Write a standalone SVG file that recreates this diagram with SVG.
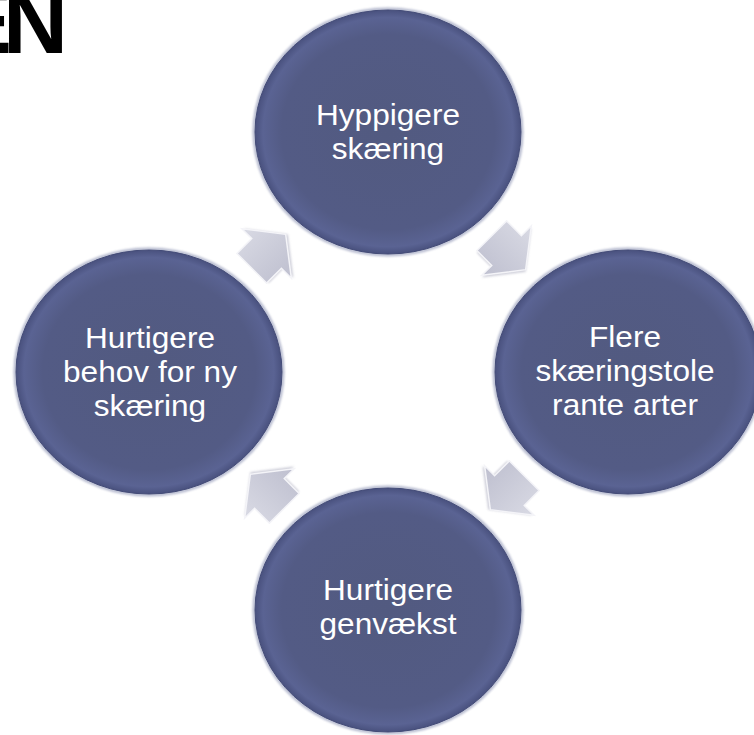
<svg xmlns="http://www.w3.org/2000/svg" width="754" height="735" viewBox="0 0 754 735">
  <defs>
    <radialGradient id="discFill" cx="50%" cy="50%" r="50%">
      <stop offset="0%" stop-color="#525a80"/>
      <stop offset="80%" stop-color="#535b85"/>
      <stop offset="94%" stop-color="#5a6393"/>
      <stop offset="100%" stop-color="#49517e"/>
    </radialGradient>
    <linearGradient id="arrowFill" x1="0" y1="0" x2="0" y2="1">
      <stop offset="0%" stop-color="#d9dae4"/>
      <stop offset="100%" stop-color="#bebfcf"/>
    </linearGradient>
    <filter id="soft" x="-10%" y="-10%" width="120%" height="120%">
      <feGaussianBlur stdDeviation="1.2"/>
    </filter>
    <!-- block arrow pointing along +x, centred on its origin -->
    <path id="cycleArrow" d="M-23,-21 L-2,-21 L-2,-35 L25,0 L-2,35 L-2,21 L-23,21 Z"/>
  </defs>
  <style>
    .halo { fill: none; stroke: #7880a6; stroke-width: 3; opacity: 0.55; filter: url(#soft); }
    .disc { fill: url(#discFill); stroke: #444c78; stroke-width: 1; }
    .label { font-family: "Liberation Sans", Arial, sans-serif; font-size: 29px; fill: #ffffff; text-anchor: middle; }
    .arrow { fill: url(#arrowFill); stroke: #f4f4f8; stroke-width: 1.5; stroke-linejoin: miter; }
    .arrowShade { fill: #9c9db2; opacity: 0.5; filter: url(#soft); }
    .heading { font-family: "Liberation Sans", Arial, sans-serif; font-size: 90px; font-weight: bold; fill: #000000; }
  </style>

  <rect x="0" y="0" width="754" height="735" fill="#ffffff"/>

  <!-- heading fragment, cropped at the top-left corner -->
  <text class="heading" x="-48 3" y="53">EN</text>

  <!-- connectors -->
  <g id="connectors">
    <g transform="translate(508,252) rotate(45)">
      <use href="#cycleArrow" class="arrowShade" transform="translate(1.5,1.5)"/>
      <use href="#cycleArrow" class="arrow"/>
    </g>
    <g transform="translate(508,492) rotate(135)">
      <use href="#cycleArrow" class="arrowShade" transform="translate(1.5,1.5)"/>
      <use href="#cycleArrow" class="arrow"/>
    </g>
    <g transform="translate(268,492) rotate(-135)">
      <use href="#cycleArrow" class="arrowShade" transform="translate(1.5,1.5)"/>
      <use href="#cycleArrow" class="arrow"/>
    </g>
    <g transform="translate(268,252) rotate(-45)">
      <use href="#cycleArrow" class="arrowShade" transform="translate(1.5,1.5)"/>
      <use href="#cycleArrow" class="arrow"/>
    </g>
  </g>

  <!-- nodes -->
  <g id="node-top">
    <ellipse class="halo" cx="388" cy="132" rx="134" ry="123"/>
    <ellipse class="disc" cx="388" cy="132" rx="133" ry="122"/>
    <g transform="translate(388,0) scale(1.09,1)">
      <text class="label" x="0" y="125">Hyppigere</text>
      <text class="label" x="0" y="159">skæring</text>
    </g>
  </g>

  <g id="node-right">
    <ellipse class="halo" cx="628" cy="372" rx="134" ry="123"/>
    <ellipse class="disc" cx="628" cy="372" rx="133" ry="122"/>
    <g transform="translate(625,0) scale(1.09,1)">
      <text class="label" x="0" y="347">Flere</text>
      <text class="label" x="0" y="381">skæringstole</text>
      <text class="label" x="0" y="415">rante arter</text>
    </g>
  </g>

  <g id="node-bottom">
    <ellipse class="halo" cx="388" cy="610" rx="134" ry="123"/>
    <ellipse class="disc" cx="388" cy="610" rx="133" ry="122"/>
    <g transform="translate(388,0) scale(1.09,1)">
      <text class="label" x="0" y="600">Hurtigere</text>
      <text class="label" x="0" y="634">genvækst</text>
    </g>
  </g>

  <g id="node-left">
    <ellipse class="halo" cx="149" cy="372" rx="134" ry="123"/>
    <ellipse class="disc" cx="149" cy="372" rx="133" ry="122"/>
    <g transform="translate(150,0) scale(1.09,1)">
      <text class="label" x="0" y="348">Hurtigere</text>
      <text class="label" x="0" y="382">behov for ny</text>
      <text class="label" x="0" y="416">skæring</text>
    </g>
  </g>
</svg>
